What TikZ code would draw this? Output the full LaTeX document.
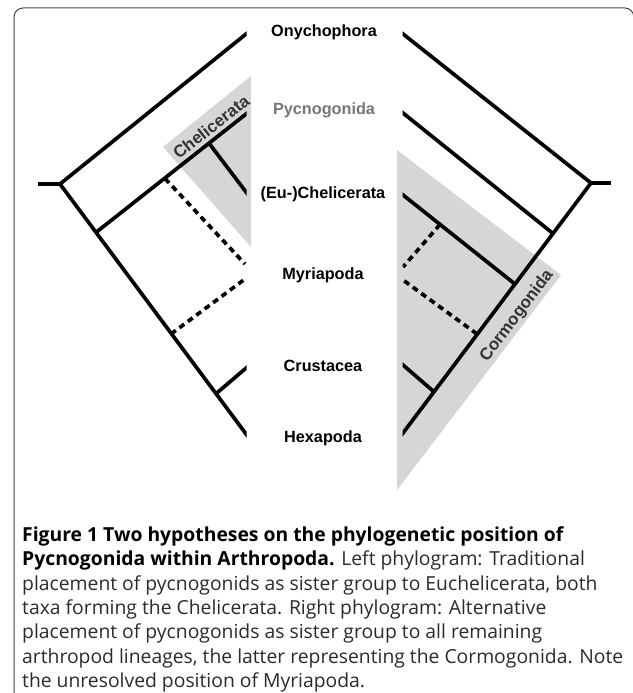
\documentclass[tikz,border=0pt]{standalone}
\usepackage{fontspec}
\setmainfont{Liberation Sans}
\newfontfamily\capfont{Open Sans}
\definecolor{cladefill}{HTML}{D6D6D6}
\definecolor{framegray}{HTML}{444444}
\definecolor{pycgray}{HTML}{767676}
\definecolor{cladetext}{HTML}{333333}
\definecolor{captext}{HTML}{2A2A2A}
\begin{document}
\begin{tikzpicture}[x=1bp,y=-1bp,
  branch/.style={line width=3.7bp, line cap=butt},
  dashbranch/.style={line width=3.7bp, dash pattern=on 6bp off 4.5bp},
  taxon/.style={font=\fontsize{16.3}{19}\selectfont\bfseries, anchor=base, inner sep=0pt},
  clade/.style={font=\fontsize{17}{19}\selectfont\bfseries, text=cladetext, inner sep=0pt},
  capline/.style={anchor=base west, inner sep=0pt, font=\capfont\fontsize{19.4}{24}\selectfont, text=captext},
  frameline/.style={line width=1bp, draw=framegray, rounded corners=9bp}]

\useasboundingbox (0,0) rectangle (633,693);

% frame
\draw[frameline] (14,700) -- (14,8) -- (633.8,8) -- (633.8,700);

% shaded clades
\fill[cladefill] (251,76) -- (163,147) -- (251,247) -- cycle;
\fill[cladefill] (397,150) -- (561,275) -- (397,490) -- cycle;

% left tree coordinates
\coordinate (Lstub) at (38,184);
\coordinate (Lroot) at (60,184);
\coordinate (LOny) at (252,29.2);
\coordinate (LHex) at (252,442);
\coordinate (Lnode) at (96,232.4);
\coordinate (LPyc) at (252,109.3);
\coordinate (LChe) at (209,143.2);
\coordinate (LEu) at (252,199.9);
\coordinate (LCruN) at (216,393.7);
\coordinate (LCru) at (252,363);
\coordinate (LdA) at (165,178.5);
\coordinate (LdAe) at (245,264);
\coordinate (LdB) at (171,334);
\coordinate (LdBe) at (245,279);

% right tree coordinates
\coordinate (Rstub) at (611,183);
\coordinate (Rroot) at (591,183);
\coordinate (ROny) at (397,29.2);
\coordinate (RHex) at (397,441);
\coordinate (Rnode) at (553,233.5);
\coordinate (RPyc) at (397,108.2);
\coordinate (REuN) at (515,284.1);
\coordinate (REu) at (397,190.2);
\coordinate (RCruN) at (434,391.8);
\coordinate (RCru) at (397,359.8);
\coordinate (RdA) at (440,224.5);
\coordinate (RdAe) at (403,267);
\coordinate (RdB) at (477,334);
\coordinate (RdBe) at (403,280);

% left tree
\draw[branch] (Lstub) -- (Lroot);
\begin{scope}
  \clip (0,0) rectangle (246.5,693);
  \draw[branch] (Lroot) -- (LOny);
  \draw[branch] (Lroot) -- (LHex);
  \draw[branch] (Lnode) -- (LPyc);
  \draw[branch] (LChe) -- (LEu);
  \draw[branch] (LCruN) -- (LCru);
  \draw[dashbranch] (LdA) -- (LdAe);
  \draw[dashbranch] (LdB) -- (LdBe);
\end{scope}

% right tree
\draw[branch] (Rstub) -- (Rroot);
\begin{scope}
  \clip (402.5,0) rectangle (633,693);
  \draw[branch] (Rroot) -- (ROny);
  \draw[branch] (Rroot) -- (RHex);
  \draw[branch] (Rnode) -- (RPyc);
  \draw[branch] (REuN) -- (REu);
  \draw[branch] (RCruN) -- (RCru);
  \draw[dashbranch] (RdA) -- (RdAe);
  \draw[dashbranch] (RdB) -- (RdBe);
\end{scope}

% taxon labels
\node[taxon] (ony) at (324,37) {Onychophora};
\node[taxon, text=pycgray] (pyc) at (324,115) {Pycnogonida};
\node[taxon] (euc) at (323,198) {(Eu-)Chelicerata};
\node[taxon] (myr) at (323,279) {Myriapoda};
\node[taxon] (cru) at (323,371) {Crustacea};
\node[taxon] (hex) at (323,442) {Hexapoda};

% clade labels
\node[clade, rotate=38] (chel) at (211,127) {Chelicerata};
\node[clade, rotate=53] (corm) at (517,316) {Cormogonida};

% caption
\node[capline] (cap1) at (22,541.5) {\bfseries\color{black}Figure 1 Two hypotheses on the phylogenetic position of};
\node[capline] (cap2) at (22,565.8) {{\bfseries\color{black}Pycnogonida within Arthropoda.} Left phylogram: Traditional};
\node[capline] (cap3) at (22,590.1) {placement of pycnogonids as sister group to Euchelicerata, both};
\node[capline] (cap4) at (22,614.4) {taxa forming the Chelicerata. Right phylogram: Alternative};
\node[capline] (cap5) at (22,638.7) {placement of pycnogonids as sister group to all remaining};
\node[capline] (cap6) at (22,663) {arthropod lineages, the latter representing the Cormogonida. Note};
\node[capline] (cap7) at (22,687.3) {the unresolved position of Myriapoda.};
\end{tikzpicture}
\end{document}
